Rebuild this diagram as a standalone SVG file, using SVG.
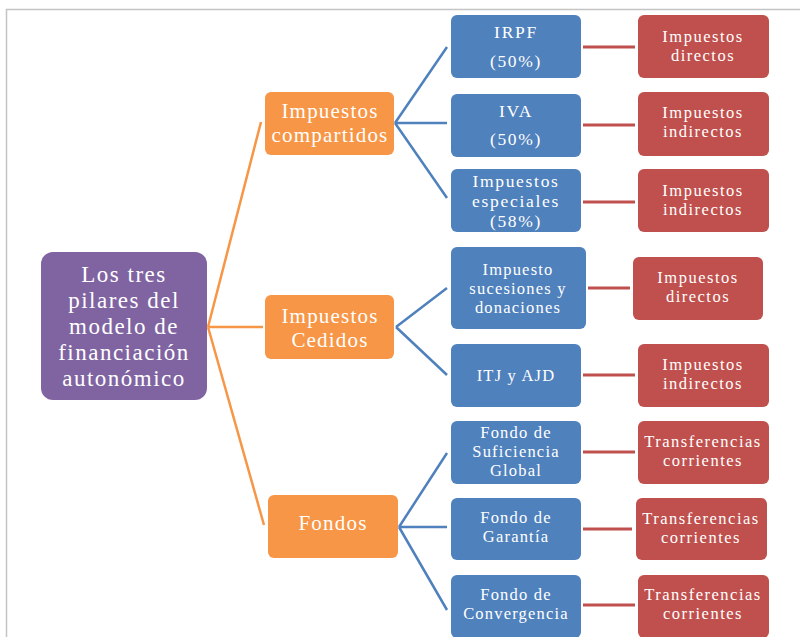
<svg xmlns="http://www.w3.org/2000/svg" width="800" height="637" viewBox="0 0 800 637">
<style>
text{font-family:"Liberation Serif","Times New Roman",serif;fill:#fff;text-anchor:middle}
.p{fill:#8064a2}.o{fill:#f79646}.b{fill:#4f81bd}.r{fill:#c0504d}
.tp{font-size:23px;letter-spacing:1.5px}
.to{font-size:21px;letter-spacing:1.2px}
.tb{font-size:17.5px;letter-spacing:1.7px}
.ts{font-size:16.5px;letter-spacing:1.2px}
.tr{font-size:16.5px;letter-spacing:1.5px}
.co{stroke:#f79646;stroke-width:2.5;fill:none}
.cb{stroke:#4f81bd;stroke-width:2.5;fill:none}
.cr{stroke:#c0504d;stroke-width:3;fill:none}
</style>
<rect x="0" y="0" width="800" height="637" fill="#fff"/>
<path d="M6.5 637V9.5H800" stroke="#c4c4c4" stroke-width="1.5" fill="none"/>
<g id="connectors">
<path class="co" d="M208 327L261 122M208 327H263M208 327L264 525"/>
<path class="cb" d="M395 123L447 47M395 123H447M395 123L447 198"/>
<path class="cb" d="M396 327L447 288M396 327L447 375"/>
<path class="cb" d="M399 527L447 453M399 527H447M399 527L447 610"/>
<path class="cr" d="M583 47H635M583 125H635M583 202H635M588 288H630M583 375H635M583 452H635M583 529H632M583 605H635"/>
</g>
<g id="root"><rect class="p" x="41" y="252" width="166" height="148" rx="12"/>
<text class="tp" x="124" y="282">Los tres</text><text class="tp" x="124" y="308">pilares  del</text><text class="tp" x="124" y="334">modelo de</text><text class="tp" x="124" y="360">financiación</text><text class="tp" x="124" y="386">autonómico</text></g>
<g id="compartidos"><rect class="o" x="265" y="92" width="129" height="63" rx="6"/>
<text class="to" x="330" y="118">Impuestos</text><text class="to" x="330" y="142">compartidos</text></g>
<g id="cedidos"><rect class="o" x="265" y="295" width="129" height="64" rx="6"/>
<text class="to" x="330" y="323">Impuestos</text><text class="to" x="330" y="347">Cedidos</text></g>
<g id="fondos"><rect class="o" x="268" y="495" width="130" height="63" rx="6"/>
<text class="to" x="333" y="530">Fondos</text></g>
<g id="irpf"><rect class="b" x="451" y="15" width="130" height="63" rx="6"/>
<text class="tb" x="516" y="38">IRPF</text><text class="tb" x="516" y="67">(50%)</text></g>
<g id="iva"><rect class="b" x="451" y="94" width="130" height="63" rx="6"/>
<text class="tb" x="516" y="117">IVA</text><text class="tb" x="516" y="145">(50%)</text></g>
<g id="especiales"><rect class="b" x="451" y="169" width="130" height="63" rx="6"/>
<text class="tb" x="516" y="187">Impuestos</text><text class="tb" x="516" y="207">especiales</text><text class="tb" x="516" y="227">(58%)</text></g>
<g id="sucesiones"><rect class="b" x="451" y="247" width="135" height="82" rx="6"/>
<text class="ts" x="518" y="275">Impuesto</text><text class="ts" x="518" y="294">sucesiones y</text><text class="ts" x="518" y="313">donaciones</text></g>
<g id="itj"><rect class="b" x="451" y="344" width="130" height="63" rx="6"/>
<text class="ts" x="516" y="381">ITJ y AJD</text></g>
<g id="suficiencia"><rect class="b" x="451" y="421" width="130" height="63" rx="6"/>
<text class="ts" x="516" y="438">Fondo de</text><text class="ts" x="516" y="457">Suficiencia</text><text class="ts" x="516" y="476">Global</text></g>
<g id="garantia"><rect class="b" x="451" y="498" width="130" height="62" rx="6"/>
<text class="ts" x="516" y="523">Fondo de</text><text class="ts" x="516" y="542">Garantía</text></g>
<g id="convergencia"><rect class="b" x="451" y="575" width="130" height="63" rx="6"/>
<text class="ts" x="516" y="600">Fondo de</text><text class="ts" x="516" y="619">Convergencia</text></g>
<g id="r1"><rect class="r" x="638" y="15" width="131" height="63" rx="6"/>
<text class="tr" x="703" y="42">Impuestos</text><text class="tr" x="703" y="61">directos</text></g>
<g id="r2"><rect class="r" x="638" y="92" width="131" height="64" rx="6"/>
<text class="tr" x="703" y="118">Impuestos</text><text class="tr" x="703" y="137">indirectos</text></g>
<g id="r3"><rect class="r" x="638" y="169" width="131" height="63" rx="6"/>
<text class="tr" x="703" y="196">Impuestos</text><text class="tr" x="703" y="215">indirectos</text></g>
<g id="r4"><rect class="r" x="633" y="257" width="130" height="63" rx="6"/>
<text class="tr" x="698" y="283">Impuestos</text><text class="tr" x="698" y="302">directos</text></g>
<g id="r5"><rect class="r" x="638" y="344" width="131" height="63" rx="6"/>
<text class="tr" x="703" y="370">Impuestos</text><text class="tr" x="703" y="389">indirectos</text></g>
<g id="r6"><rect class="r" x="638" y="421" width="131" height="63" rx="6"/>
<text class="tr" x="703" y="447">Transferencias</text><text class="tr" x="703" y="466">corrientes</text></g>
<g id="r7"><rect class="r" x="636" y="498" width="131" height="62" rx="6"/>
<text class="tr" x="701" y="524">Transferencias</text><text class="tr" x="701" y="543">corrientes</text></g>
<g id="r8"><rect class="r" x="638" y="575" width="131" height="63" rx="6"/>
<text class="tr" x="703" y="600">Transferencias</text><text class="tr" x="703" y="619">corrientes</text></g>
</svg>
